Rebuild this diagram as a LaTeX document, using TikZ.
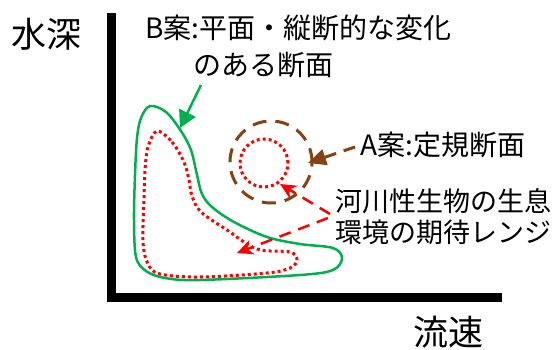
\documentclass[tikz,border=0pt]{standalone}
\usepackage{fontspec}
\setmainfont{Noto Sans CJK JP}
\usetikzlibrary{arrows.meta}
\definecolor{grn}{RGB}{0,176,80}
\definecolor{brn}{RGB}{133,66,18}
\begin{document}
\begin{tikzpicture}[x=1pt,y=-1pt,
 lbl/.style={inner sep=0pt, anchor=west, font=\fontsize{28}{32}\selectfont},
 lbls/.style={inner sep=0pt, anchor=west, font=\fontsize{27}{31}\selectfont},
 big/.style={inner sep=0pt, font=\fontsize{35}{40}\selectfont},
 axisline/.style={line width=9pt, line join=miter},
 greenline/.style={grn, line width=2.5pt},
 reddot/.style={red, line width=3pt, dash pattern=on 3pt off 3pt},
 browndash/.style={brn, line width=3pt, dash pattern=on 14pt off 9pt},
 reddash/.style={red, line width=2.5pt, dash pattern=on 12pt off 8pt, -{Stealth[length=16pt,width=15pt,inset=5pt]}},
]
\useasboundingbox (0,0) rectangle (556,350);
% axes
\coordinate (ytop) at (111,13);
\coordinate (orig) at (111,297);
\coordinate (xend) at (502,297);
\draw[axisline] (ytop) -- (orig) -- (xend);
% labels
\node[big] (ylab) at (46,34) {水深};
\node[big] (xlab) at (448,332) {流速};
\node[lbl] (b1) at (145,28) {B案:平面・縦断的な変化};
\node[lbl] (b2) at (193,65) {のある断面};
\node[lbl] (a) at (360,145) {A案:定規断面};
\node[lbls] (r1) at (335,201) {河川性生物の生息};
\node[lbls] (r2) at (335,232) {環境の期待レンジ};
% B shape (green)
\draw[greenline] plot[smooth cycle, tension=0.55] coordinates {
 (150,106) (166,112) (181,131) (191,150) (197,175) (202,194) (212,207)
 (234,222) (267,237) (300,244) (333,248) (342,258) (333,270) (300,275)
 (200,280) (165,278) (146,271) (136,257) (134,220) (135,175) (137,138) (141,118)};
% inner red dotted range
\draw[reddot] plot[smooth cycle, tension=0.55] coordinates {
 (157,131) (172,142) (184,162) (189,180) (192,196) (201,212) (227,230)
 (257,249) (290,252) (297,260) (290,268) (267,273) (200,277) (160,274)
 (148,264) (143,242) (144,200) (145,170) (148,147)};
% A circles
\node[circle, minimum size=82pt, inner sep=0pt] (acirc) at (271,162) {};
\draw[browndash] (271,162) circle[radius=41pt];
\node[circle, minimum size=48pt, inner sep=0pt] (rcirc) at (264,163) {};
\draw[reddot] (264,163) circle[radius=24pt];
% arrows
\coordinate (gs) at (201,85);
\coordinate (gt) at (180,128);
\draw[greenline, -{Triangle[length=17pt,width=18pt]}] (gs) -- (gt);
\coordinate (bs) at (355,147);
\coordinate (bt) at (308,163);
\draw[brn, line width=3pt, dash pattern=on 12pt off 8pt, -{Triangle[length=18pt,width=16pt]}] (bs) -- (bt);
\coordinate (rs1) at (330,214);
\coordinate (rt1) at (280,184);
\coordinate (rs2) at (328,218);
\coordinate (rt2) at (237,253);
\draw[reddash] (rs1) -- (rt1);
\draw[reddash] (rs2) -- (rt2);
\end{tikzpicture}
\end{document}
